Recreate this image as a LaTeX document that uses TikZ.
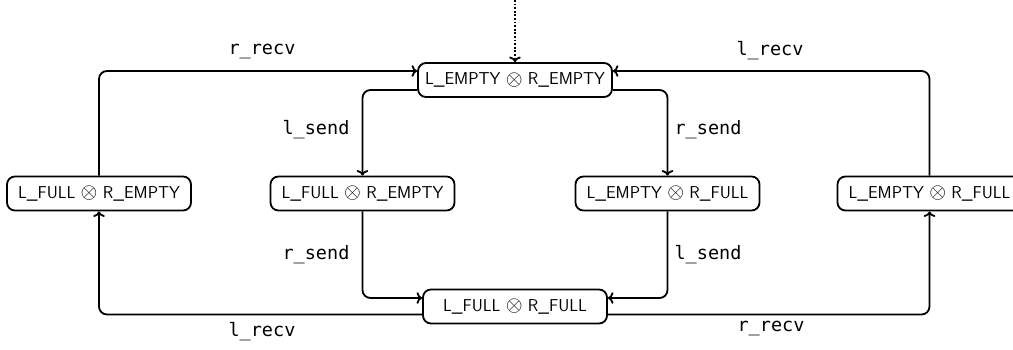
\documentclass[tikz,border=0pt]{standalone}
\usepackage{fontspec}
\newfontfamily\monof{DejaVu Sans Mono}
\newcommand{\tens}{\raisebox{-0.6pt}{\scalebox{1.25}{$\otimes$}}}
\usetikzlibrary{arrows.meta}
\begin{document}
\begin{tikzpicture}[x=1pt,y=-1pt, line width=1.8pt,
  state/.style={draw, rounded corners=8pt, minimum height=34pt, minimum width=184pt, inner xsep=7pt, font=\sffamily\fontsize{17.2}{21}\selectfont},
  lbl/.style={font=\monof\fontsize{18.5}{21}\selectfont, inner sep=0pt},
  edge/.style={->, rounded corners=8pt}]
\useasboundingbox (0,0) rectangle (1013,349);
\node[state] (top) at (515,80) {L\_EMPTY \tens{} R\_EMPTY};
\node[state] (n1) at (99,193.5) {L\_FULL \tens{} R\_EMPTY};
\node[state] (n2) at (362.5,193.5) {L\_FULL \tens{} R\_EMPTY};
\node[state] (n3) at (667.5,193.5) {L\_EMPTY \tens{} R\_FULL};
\node[state] (n4) at (929.5,193.5) {L\_EMPTY \tens{} R\_FULL};
\node[state] (bot) at (515,306.5) {L\_FULL \tens{} R\_FULL};
\coordinate (start) at (515,0);
\draw[->, dash pattern=on 1.8pt off 1.8pt] (start) -- (top.north);
\draw[edge] (n1.north) |- ([yshift=9pt]top.west);
\draw[edge] (n4.north) |- ([yshift=9pt]top.east);
\draw[edge] ([yshift=-10pt]top.west) -| (n2.north);
\draw[edge] ([yshift=-10pt]top.east) -| (n3.north);
\draw[edge] (n2.south) |- ([yshift=8.5pt]bot.west);
\draw[edge] (n3.south) |- ([yshift=8.5pt]bot.east);
\draw[edge] ([yshift=-8pt]bot.west) -| (n1.south);
\draw[edge] ([yshift=-8pt]bot.east) -| (n4.south);
\node[lbl] (a1) at (262,51) {r\_recv};
\node[lbl] (a2) at (770,51) {l\_recv};
\node[lbl] (a3) at (316,130) {l\_send};
\node[lbl] (a4) at (708,130) {r\_send};
\node[lbl] (a5) at (316,255) {r\_send};
\node[lbl] (a6) at (708,255) {l\_send};
\node[lbl] (a7) at (262,332) {l\_recv};
\node[lbl] (a8) at (771,328) {r\_recv};
\end{tikzpicture}
\end{document}
